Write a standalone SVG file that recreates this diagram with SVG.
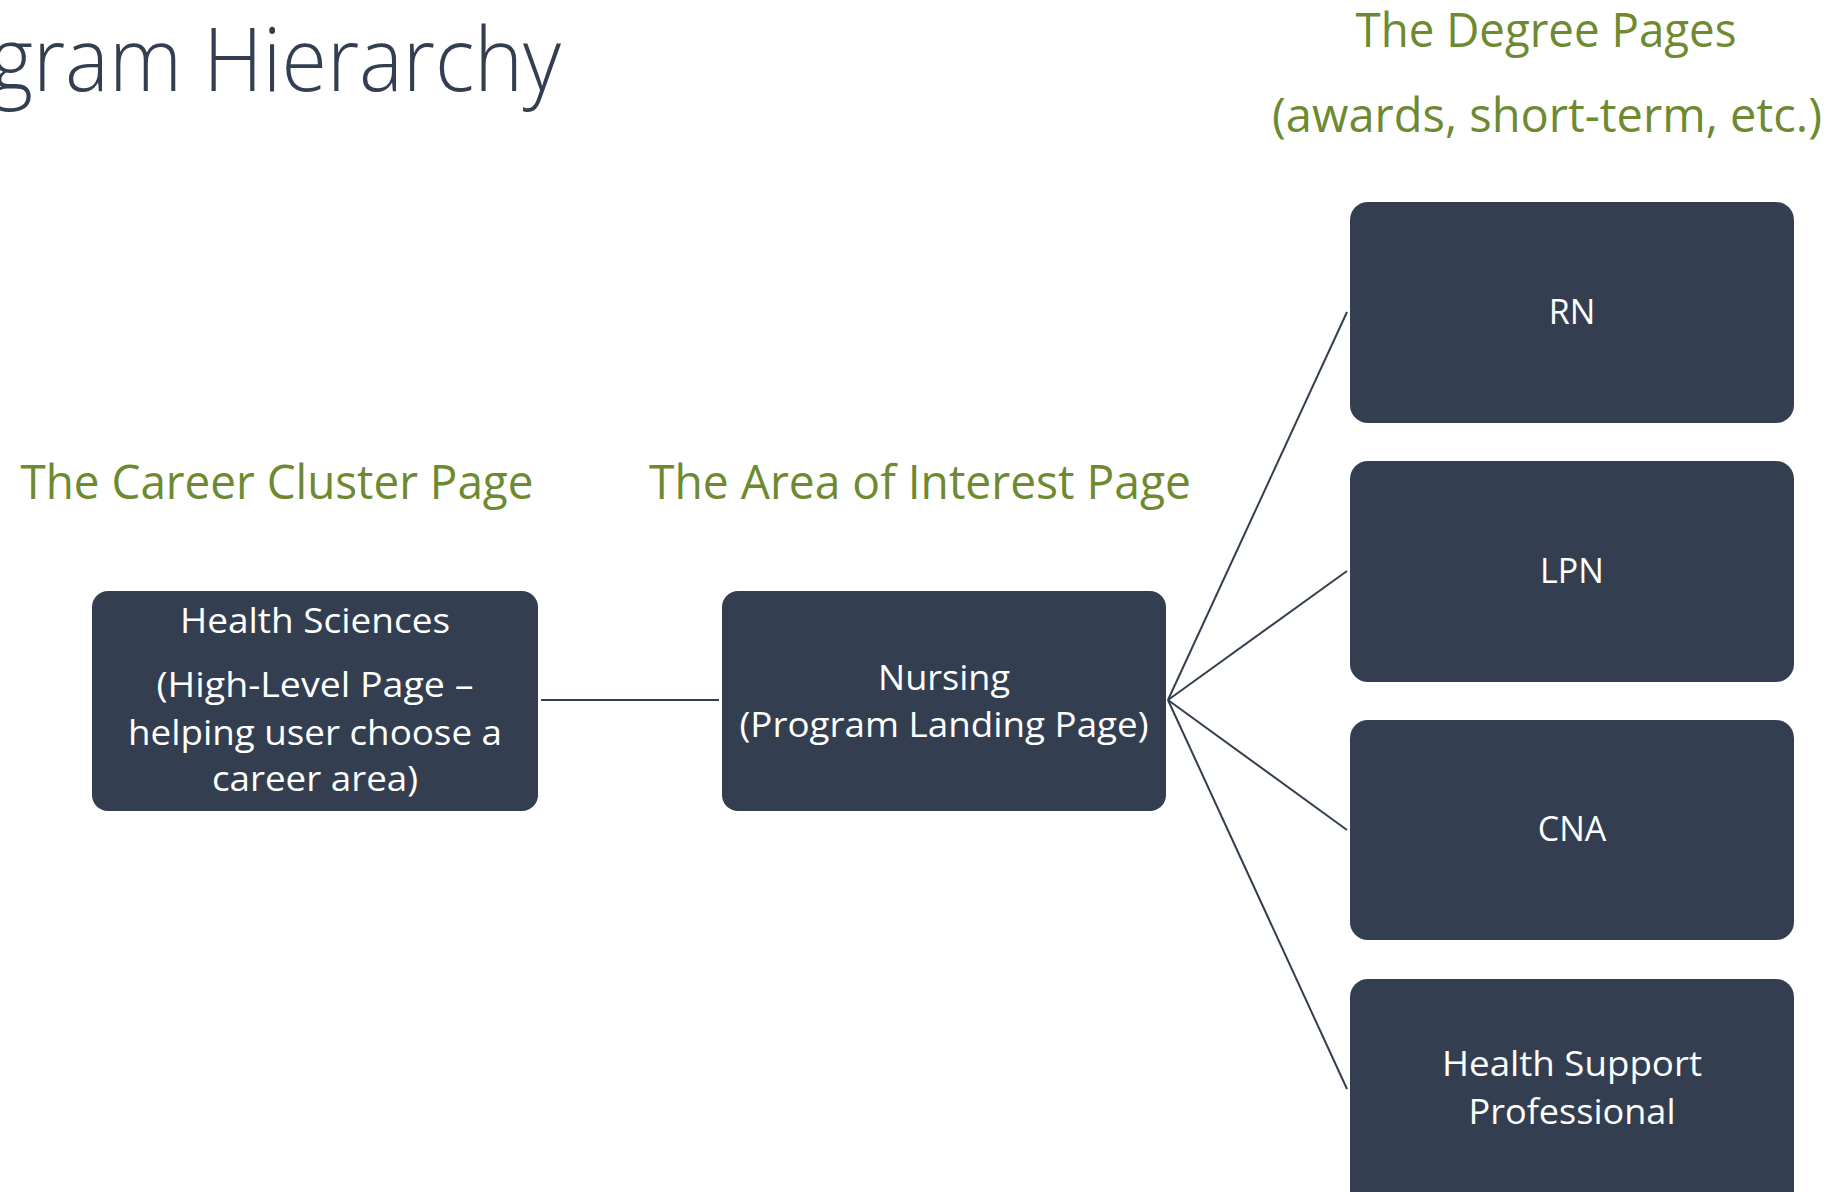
<svg xmlns="http://www.w3.org/2000/svg" width="1834" height="1192" viewBox="0 0 1834 1192">
  <style>
    .title { font-family: "Open Sans", "Liberation Sans", sans-serif; font-weight: 300; font-size: 88px; fill: #333F50; }
    .label { font-family: "Open Sans", "Liberation Sans", sans-serif; font-size: 48px; fill: #6E8A31; text-anchor: middle; }
    .box { fill: #333F50; }
    .btext { font-family: "Open Sans", "Liberation Sans", sans-serif; font-size: 34px; fill: #FFFFFF; text-anchor: middle; }
    .conn { stroke: #333F50; stroke-width: 2; fill: none; }
  </style>
  <rect width="1834" height="1192" fill="#FFFFFF"/>
  <text class="title" x="561" y="91" text-anchor="end" textLength="571" lengthAdjust="spacingAndGlyphs">gram Hierarchy</text>

  <text class="label" x="277" y="499" textLength="513" lengthAdjust="spacingAndGlyphs">The Career Cluster Page</text>
  <text class="label" x="920" y="499" textLength="542" lengthAdjust="spacingAndGlyphs">The Area of Interest Page</text>
  <text class="label" x="1546" y="47" textLength="381" lengthAdjust="spacingAndGlyphs">The Degree Pages</text>
  <text class="label" x="1547" y="132" textLength="550" lengthAdjust="spacingAndGlyphs">(awards, short-term, etc.)</text>

  <g id="connectors">
    <line class="conn" x1="541" y1="700" x2="719" y2="700"/>
    <line class="conn" x1="1168" y1="700" x2="1347" y2="312"/>
    <line class="conn" x1="1168" y1="700" x2="1347" y2="571"/>
    <line class="conn" x1="1168" y1="700" x2="1347" y2="830"/>
    <line class="conn" x1="1168" y1="700" x2="1347" y2="1089"/>
  </g>

  <g id="health-sciences">
    <rect class="box" x="92" y="591" width="446" height="220" rx="16"/>
    <text class="btext" x="315" y="633" textLength="270" lengthAdjust="spacingAndGlyphs">Health Sciences</text>
    <text class="btext" x="315" y="697" textLength="317" lengthAdjust="spacingAndGlyphs">(High-Level Page –</text>
    <text class="btext" x="315" y="745" textLength="374" lengthAdjust="spacingAndGlyphs">helping user choose a</text>
    <text class="btext" x="315" y="791" textLength="206" lengthAdjust="spacingAndGlyphs">career area)</text>
  </g>

  <g id="nursing">
    <rect class="box" x="722" y="591" width="444" height="220" rx="16"/>
    <text class="btext" x="944" y="690" textLength="132" lengthAdjust="spacingAndGlyphs">Nursing</text>
    <text class="btext" x="944" y="737" textLength="409" lengthAdjust="spacingAndGlyphs">(Program Landing Page)</text>
  </g>

  <g id="rn">
    <rect class="box" x="1350" y="202" width="444" height="221" rx="18"/>
    <text class="btext" x="1572" y="324">RN</text>
  </g>

  <g id="lpn">
    <rect class="box" x="1350" y="461" width="444" height="221" rx="18"/>
    <text class="btext" x="1572" y="583">LPN</text>
  </g>

  <g id="cna">
    <rect class="box" x="1350" y="720" width="444" height="220" rx="18"/>
    <text class="btext" x="1572" y="841">CNA</text>
  </g>

  <g id="health-support">
    <rect class="box" x="1350" y="979" width="444" height="230" rx="18"/>
    <text class="btext" x="1572" y="1076" textLength="260" lengthAdjust="spacingAndGlyphs">Health Support</text>
    <text class="btext" x="1572" y="1124" textLength="207" lengthAdjust="spacingAndGlyphs">Professional</text>
  </g>
</svg>
